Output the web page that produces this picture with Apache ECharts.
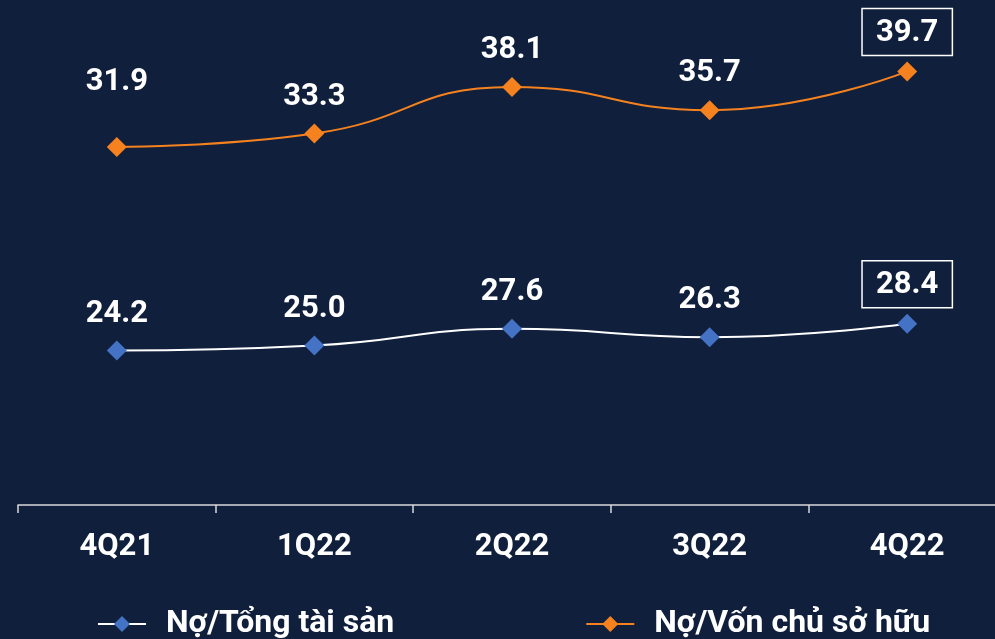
<!DOCTYPE html>
<html lang="vi">
  <head>
    <meta charset="UTF-8" />
    <title>No/Tong tai san</title>
    <script src="https://cdn.jsdelivr.net/npm/echarts@6.0.0/dist/echarts.min.js"></script>
    <style>
      * {
        padding: 0;
        margin: 0;
      }
      html,
      body {
        background-color: #101f3c;
      }
      #main {
        width: 995px;
        height: 639px;
      }
    </style>
  </head>
  <body>
    <div id="main"></div>
    <script>
      var quarters = ["4Q21", "1Q22", "2Q22", "3Q22", "4Q22"];
      var debtToAssets = [24.2, 25.0, 27.6, 26.3, 28.4];
      var debtToEquity = [31.9, 33.3, 38.1, 35.7, 39.7];
      var seriesNames = ["Nợ/Tổng tài sản", "Nợ/Vốn chủ sở hữu"];

      var fontColor = "#ffffff";
      var labelFont = "Roboto";

      // label above each point; last one gets a white box
      function makeData(values, dist) {
        return values.map(function (v, i) {
          var item = { value: v };
          if (i === values.length - 1) {
            item.label = {
              borderColor: "#ffffff",
              borderWidth: 1.5,
              padding: [9, 14, 7, 14],
              distance: 6,
            };
          } else if (dist[i] != null) {
            item.label = { distance: dist[i] };
          }
          return item;
        });
      }

      var myChart = echarts.init(document.getElementById("main"));
      var option = {
        backgroundColor: "#101f3c",
        grid: {
          left: 18,
          width: 988,
          top: 20,
          bottom: 134,
          outerBoundsMode: "none",
          containLabel: false,
        },
        legend: {
          bottom: -6,
          left: 92,
          itemWidth: 48,
          itemHeight: 20,
          itemGap: 191,
          textStyle: {
            color: fontColor,
            fontFamily: labelFont,
            fontWeight: "bold",
            fontSize: 32,
            padding: [0, 0, 0, 15],
          },
          data: seriesNames,
        },
        xAxis: {
          type: "category",
          boundaryGap: true,
          data: quarters,
          axisLine: {
            show: true,
            lineStyle: { color: "#d9d9d9", width: 1.5 },
          },
          axisTick: {
            show: true,
            length: 8,
            lineStyle: { color: "#d9d9d9", width: 1.5 },
          },
          axisLabel: {
            color: fontColor,
            fontFamily: labelFont,
            fontWeight: "bold",
            fontSize: 31,
            margin: 27,
          },
          splitLine: { show: false },
        },
        yAxis: [
          {
            type: "value",
            min: 0,
            max: 76,
            show: false,
          },
          {
            type: "value",
            min: -5,
            max: 45,
            show: false,
          },
        ],
        series: [
          {
            name: seriesNames[0],
            type: "line",
            yAxisIndex: 0,
            smooth: true,
            symbol: "diamond",
            symbolSize: 20,
            itemStyle: { color: "#4472c4" },
            lineStyle: { color: "#ffffff", width: 2 },
            label: {
              show: true,
              position: "top",
              distance: 11,
              color: fontColor,
              fontFamily: labelFont,
              fontWeight: "bold",
              fontSize: 31,
              formatter: function (p) {
                return p.value.toFixed(1);
              },
            },
            data: makeData(debtToAssets, []),
          },
          {
            name: seriesNames[1],
            type: "line",
            yAxisIndex: 1,
            smooth: true,
            symbol: "diamond",
            symbolSize: 20,
            itemStyle: { color: "#f5821f" },
            lineStyle: { color: "#f5821f", width: 2 },
            label: {
              show: true,
              position: "top",
              distance: 11,
              color: fontColor,
              fontFamily: labelFont,
              fontWeight: "bold",
              fontSize: 31,
              formatter: function (p) {
                return p.value.toFixed(1);
              },
            },
            data: makeData(debtToEquity, [39]),
          },
        ],
      };
      myChart.setOption(option);
    </script>
  </body>
</html>
